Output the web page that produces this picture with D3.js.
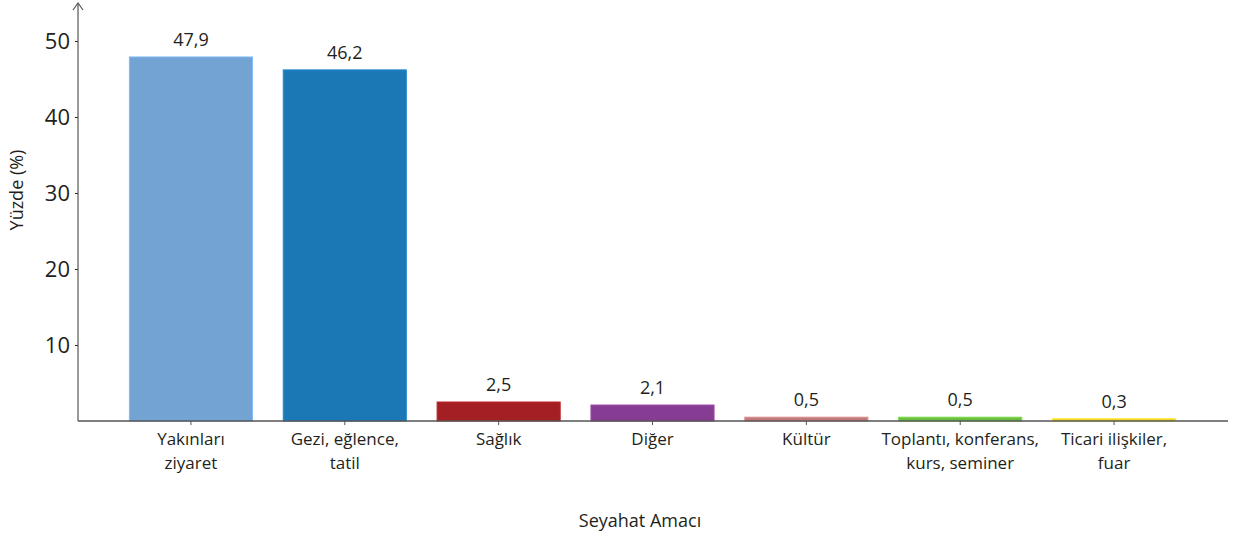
<!DOCTYPE html>
<html><head><meta charset="utf-8">
<script src="https://cdn.jsdelivr.net/npm/d3@7"></script>
<style>body{margin:0;background:#fff}svg{display:block}text{font-family:"Open Sans","Noto Sans",sans-serif;fill:#231f20}</style>
</head><body>
<svg id="c" width="1239" height="538"></svg>
<script>
const categories = [["Yakınları","ziyaret"],["Gezi, eğlence,","tatil"],["Sağlık"],["Diğer"],["Kültür"],["Toplantı, konferans,","kurs, seminer"],["Ticari ilişkiler,","fuar"]];
const values = [47.9, 46.2, 2.5, 2.1, 0.5, 0.5, 0.3];
const valueLabels = ["47,9","46,2","2,5","2,1","0,5","0,5","0,3"];
const colors = ["#72a3d3","#1b78b5","#a31f24","#873c94","#c07a7a","#6abf3f","#f0cf2a"];
const yTicks = [10,20,30,40,50];

const svg = d3.select("#c");
const x0 = 78, yBase = 421;
const x = d3.scaleBand().domain(d3.range(values.length)).range([114, 1191]).paddingInner(0.2).paddingOuter(0.1);
const y = d3.scaleLinear().domain([0,50]).range([yBase, 41]);

// bars
svg.append("g").selectAll("rect").data(values).join("rect")
  .attr("x",(d,i)=>x(i)).attr("width",x.bandwidth())
  .attr("y",d=>y(d)).attr("height",d=>yBase-y(d))
  .attr("fill",(d,i)=>colors[i])
  .attr("stroke",(d,i)=>d3.color(colors[i]).brighter(0.4)).attr("stroke-width",1);

// value labels
svg.append("g").selectAll("text").data(values).join("text")
  .attr("x",(d,i)=>x(i)+x.bandwidth()/2).attr("y",d=>y(d)-11)
  .attr("text-anchor","middle").attr("font-size",18).text((d,i)=>valueLabels[i]);

// y axis
const ya = svg.append("g").attr("transform",`translate(${x0},0)`)
  .call(d3.axisLeft(y).tickValues(yTicks).tickSize(3).tickFormat(d3.format("d")));
ya.select(".domain").remove();
ya.selectAll("line").attr("stroke","#231f20");
ya.selectAll("text").attr("font-size",22).attr("x",-8).attr("fill","#231f20").style("font-family",'"Open Sans","Noto Sans",sans-serif');
svg.append("line").attr("x1",x0).attr("x2",x0).attr("y1",yBase).attr("y2",4).attr("stroke","#555").attr("stroke-width",1.2);
svg.append("path").attr("d",`M${x0-5},${10} L${x0},${3} L${x0+5},${10}`).attr("fill","none").attr("stroke","#555").attr("stroke-width",1.2);

// x axis
const xa = svg.append("g").attr("transform",`translate(0,${yBase})`)
  .call(d3.axisBottom(x).tickSize(4).tickFormat(""));
xa.select(".domain").remove();
xa.selectAll("line").attr("stroke","#555");
svg.append("line").attr("x1",x0).attr("x2",1228).attr("y1",yBase).attr("y2",yBase).attr("stroke","#555").attr("stroke-width",1.5);

// category labels
const cl = svg.append("g").selectAll("text").data(categories).join("text")
  .attr("x",(d,i)=>x(i)+x.bandwidth()/2).attr("y",445).attr("text-anchor","middle").attr("font-size",17);
cl.selectAll("tspan").data(d=>d).join("tspan")
  .attr("x",function(){return this.parentNode.getAttribute("x");})
  .attr("dy",(d,j)=>j===0?0:24).text(d=>d);

// axis titles
svg.append("text").attr("x",640).attr("y",527).attr("text-anchor","middle").attr("font-size",18).text("Seyahat Amacı");
svg.append("text").attr("transform","translate(23,190) rotate(-90)").attr("text-anchor","middle").attr("font-size",18).text("Yüzde (%)");
</script>
</body></html>
